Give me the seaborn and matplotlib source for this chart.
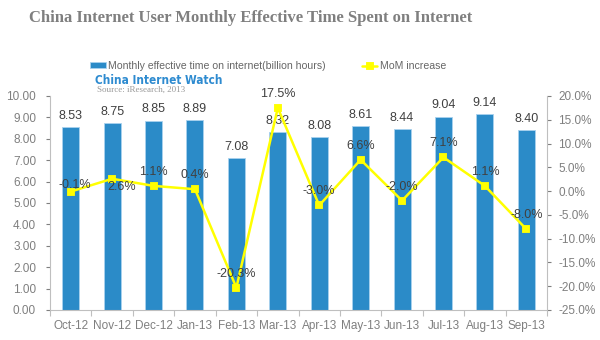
import matplotlib
matplotlib.use("Agg")
import matplotlib.pyplot as plt
from matplotlib.ticker import FuncFormatter, FixedLocator
import seaborn as sns
import pandas as pd
import numpy as np

months = ["Oct-12", "Nov-12", "Dec-12", "Jan-13", "Feb-13", "Mar-13",
          "Apr-13", "May-13", "Jun-13", "Jul-13", "Aug-13", "Sep-13"]
hours = [8.53, 8.75, 8.85, 8.89, 7.08, 8.32, 8.08, 8.61, 8.44, 9.04, 9.14, 8.40]
mom = [-0.1, 2.6, 1.1, 0.4, -20.3, 17.5, -3.0, 6.6, -2.0, 7.1, 1.1, -8.0]

bar_name = "Monthly effective time on internet(billion hours)"
line_name = "MoM increase"

df = pd.DataFrame({"month": months, "hours": hours, "mom": mom})

sns.set_theme(style="white")
plt.rcParams["font.family"] = ["Liberation Sans", "DejaVu Sans"]

BLUE = "#2B8BC8"
YELLOW = "#FFFF00"
GRAY = "#7F7F7F"
AXIS = "#BFBFBF"
TXT = "#404040"

fig = plt.figure(figsize=(6, 3.4), dpi=100)
ax = fig.add_axes([50 / 600, 30 / 340, 497 / 600, 214 / 340])

sns.barplot(data=df, x="month", y="hours", color=BLUE, width=0.41,
            edgecolor="#A9D2EE", linewidth=0.6, saturation=1, ax=ax,
            label=bar_name)
ax.set_ylim(0, 10)
ax.set_xlim(-0.5, len(months) - 0.5)
ax.set_xlabel("")
ax.set_ylabel("")
ax.yaxis.set_major_locator(FixedLocator(np.arange(0, 10.01, 1)))
ax.yaxis.set_major_formatter(FuncFormatter(lambda v, p: f"{v:.2f}"))

for i, v in enumerate(hours):
    ax.annotate(f"{v:.2f}", (i, v), xytext=(0, 8), textcoords="offset points",
                ha="center", va="center", fontsize=9, color=TXT)

ax2 = ax.twinx()
sns.pointplot(data=df, x="month", y="mom", color=YELLOW, markers="s",
              linewidth=1.8, markersize=5, ax=ax2, label=line_name)
ax2.set_ylim(-25, 20)
ax2.set_xlim(-0.5, len(months) - 0.5)
ax2.set_ylabel("")
ax2.set_xlabel("")
ax2.yaxis.set_major_locator(FixedLocator(np.arange(-25, 20.01, 5)))
ax2.yaxis.set_major_formatter(FuncFormatter(lambda v, p: f"{v:.1f}%"))

label_offsets = [(3, 5), (7, -6), (0, 10), (0, 10), (0, 10), (0, 10),
                 (0, 10), (0, 10), (0, 10), (0, 10), (0, 10), (0, 10)]
for i, (v, off) in enumerate(zip(mom, label_offsets)):
    ax2.annotate(f"{v:.1f}%", (i, v), xytext=off, textcoords="offset points",
                 ha="center", va="center", fontsize=9, color=TXT)

for a in (ax, ax2):
    for s in a.spines.values():
        s.set_color(AXIS)
        s.set_linewidth(0.8)
    a.spines["top"].set_visible(False)
    a.grid(False)
ax2.spines["left"].set_visible(False)
ax2.spines["bottom"].set_visible(False)
ax.spines["right"].set_visible(False)

ax.tick_params(axis="y", colors=GRAY, labelsize=8.5, length=3, width=0.8,
               direction="out", left=True, pad=7)
ax2.tick_params(axis="y", colors=GRAY, labelsize=8.5, length=3, width=0.8,
                direction="out", right=True, pad=5)
ax.tick_params(axis="x", colors=GRAY, labelsize=8.5, length=0, pad=7)
ax.set_xticks(np.arange(-0.5, len(months), 1), minor=True)
ax.tick_params(axis="x", which="minor", length=4, width=0.8, color=AXIS,
               bottom=True, direction="out")

for a in (ax, ax2):
    lg = a.get_legend()
    if lg is not None:
        lg.remove()

h1, l1 = ax.get_legend_handles_labels()
h2, l2 = ax2.get_legend_handles_labels()
fig.legend(h1[:1] + h2[:1], [bar_name, line_name], loc="center",
           bbox_to_anchor=(268 / 600, 1 - 66 / 340), ncol=2, frameon=False,
           fontsize=7.6, labelcolor="#666666", handlelength=1.5,
           handleheight=0.55, columnspacing=3.4, handletextpad=0.2)

fig.text(251 / 600, 1 - 18 / 340,
         "China Internet User Monthly Effective Time Spent on Internet",
         ha="center", va="center", fontsize=12, fontweight="bold",
         color=GRAY, family=["Liberation Serif"])
fig.text(95 / 600, 1 - 80 / 340, "China Internet Watch", ha="left",
         va="center", fontsize=8.5, fontweight="bold", color="#2E8BD0",
         fontstretch="condensed",
         family=["Liberation Sans Narrow", "DejaVu Sans"])
fig.text(97 / 600, 1 - 90 / 340, "Source: iResearch, 2013", ha="left",
         va="center", fontsize=6.5, color="#999999",
         family=["Liberation Serif"])

fig.savefig("out.png", dpi=100)
